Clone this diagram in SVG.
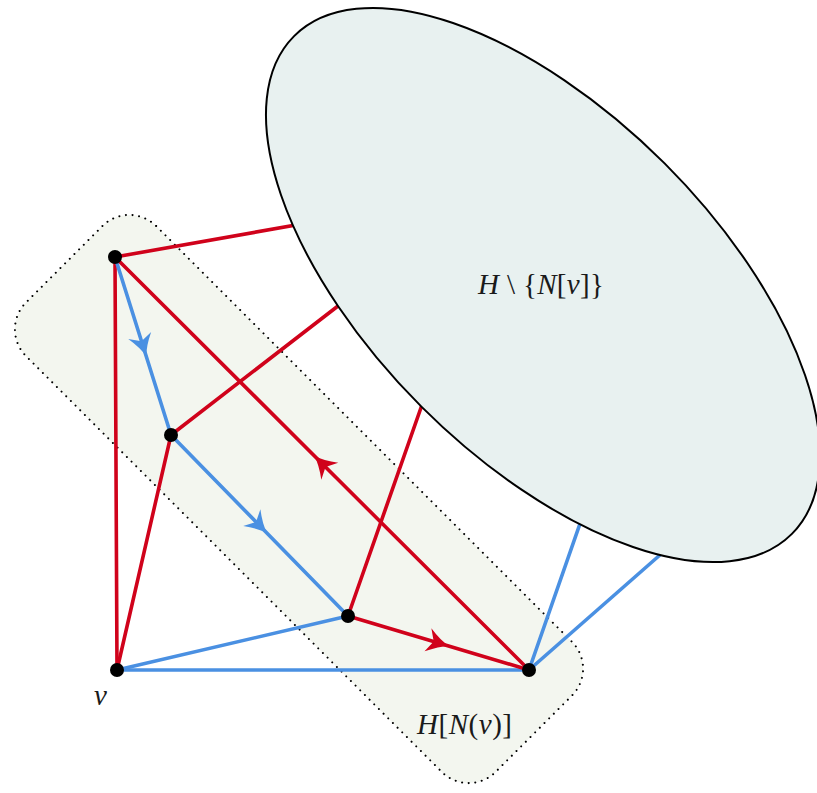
<svg xmlns="http://www.w3.org/2000/svg" width="817" height="793" viewBox="0 0 817 793">
<style>
.red{stroke:#d0021b;stroke-width:3.6;fill:none;stroke-linecap:round}
.blue{stroke:#4a90e2;stroke-width:3.6;fill:none;stroke-linecap:round}
.node{fill:#000}
.lbl{font-family:"Liberation Serif","DejaVu Serif",serif;font-size:29px;fill:#1a1a1a}
.it{font-style:italic}
</style>
<defs>
<marker id="ar" markerUnits="userSpaceOnUse" viewBox="-24 -13 25 26" markerWidth="25" markerHeight="26" refX="-10" refY="0" orient="auto">
<path d="M1,0 Q-9,-3 -21,-12 L-15,0 L-21,12 Q-9,3 1,0 Z" fill="#d0021b"/>
</marker>
<marker id="ab" markerUnits="userSpaceOnUse" viewBox="-24 -13 25 26" markerWidth="25" markerHeight="26" refX="-10" refY="0" orient="auto">
<path d="M1,0 Q-9,-3 -21,-12 L-15,0 L-21,12 Q-9,3 1,0 Z" fill="#4a90e2"/>
</marker>
</defs>
<g id="region">
<rect x="-332" y="-92" width="664" height="184" rx="38" ry="38" transform="translate(299,499) rotate(45)" fill="#f3f6ef" stroke="#000" stroke-width="2" stroke-dasharray="0 6.6" stroke-linecap="round"/>
</g>
<g id="connectors">
<line class="red" x1="115" y1="257" x2="330" y2="219"/>
<line class="red" x1="171" y1="435" x2="360" y2="289"/>
<line class="red" x1="348" y1="616" x2="430" y2="382"/>
<line class="blue" x1="529" y1="670" x2="590" y2="495"/>
<line class="blue" x1="529" y1="670" x2="685" y2="533"/>
<line class="red" x1="115" y1="257" x2="117" y2="670"/>
<line class="red" x1="171" y1="435" x2="117" y2="670"/>
<line class="blue" x1="348" y1="616" x2="117" y2="670"/>
<line class="blue" x1="117" y1="670" x2="529" y2="670"/>
<path class="blue" d="M115,257 L143,346 L171,435" marker-mid="url(#ab)"/>
<path class="blue" d="M171,435 L259.5,525.5 L348,616" marker-mid="url(#ab)"/>
<path class="red" d="M529,670 L322,463.5 L115,257" marker-mid="url(#ar)"/>
<path class="red" d="M348,616 L438.5,643 L529,670" marker-mid="url(#ar)"/>
</g>
<g id="rest">
<ellipse cx="543" cy="285" rx="352" ry="172" transform="rotate(45 543 285)" fill="#e8f1f0" stroke="#000" stroke-width="2"/>
<text class="lbl" x="478" y="294" textLength="126" lengthAdjust="spacing"><tspan class="it">H</tspan> \ {<tspan class="it">N</tspan>[<tspan class="it">v</tspan>]}</text>
</g>
<g id="nA"><circle class="node" cx="115" cy="257" r="7"/></g>
<g id="nB"><circle class="node" cx="171" cy="435" r="7"/></g>
<g id="nC"><circle class="node" cx="348" cy="616" r="7"/></g>
<g id="nD"><circle class="node" cx="529" cy="670" r="7"/></g>
<g id="nv"><circle class="node" cx="117" cy="670" r="7"/>
<text class="lbl it" x="94" y="705">v</text></g>
<g id="lblH"><text class="lbl" x="417" y="734" textLength="95" lengthAdjust="spacing"><tspan class="it">H</tspan>[<tspan class="it">N</tspan>(<tspan class="it">v</tspan>)]</text></g>
</svg>
